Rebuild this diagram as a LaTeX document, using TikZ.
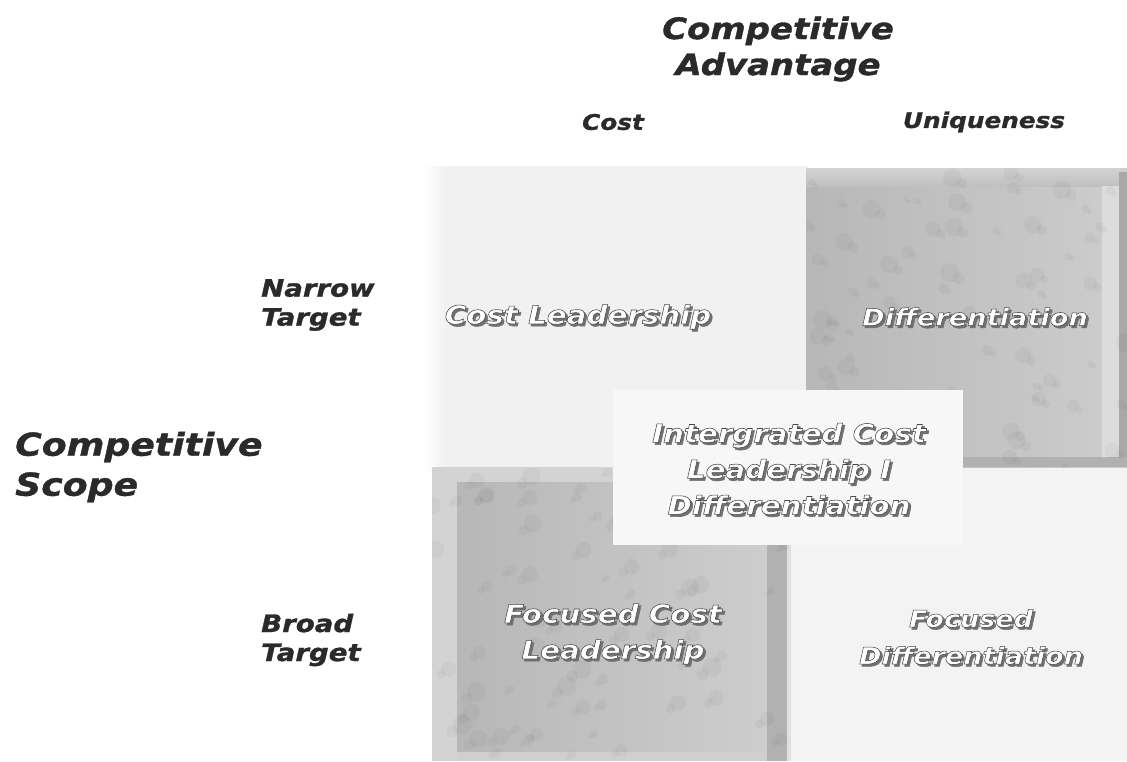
\documentclass[tikz,border=0pt]{standalone}
\usepackage{fontspec}
% heavy, slanted, widened sans for all lettering
\newfontfamily\wideface[FakeStretch=1.15, FakeBold=1.2]{DejaVu Sans Bold Oblique}
% same face with a stroked rim (stroke colour set separately)
\newfontfamily\rimface[FakeStretch=1.15, FakeBold=2.2]{DejaVu Sans Bold Oblique}

\definecolor{inkdark}{HTML}{2A2A2A}
\definecolor{fieldlight}{HTML}{F1F1F1}
\definecolor{fieldpale}{HTML}{F3F3F3}
\definecolor{panelframe}{HTML}{D3D3D3}
\definecolor{paneldark}{HTML}{B7B7B7}
\definecolor{panelmid}{HTML}{CDCDCD}
\definecolor{paneledge}{HTML}{A9A9A9}
\definecolor{lblshadow}{HTML}{707070}

% white lettering with a dark rim and a soft drop shadow
\newcommand\embossed[1]{%
  \rlap{\kern2.2pt\raisebox{-2.2pt}{\color{lblshadow}#1}}%
  {\color{white}\special{pdf:code 0.28 0.28 0.28 RG}#1}}

\tikzset{
  heading/.style={font=\wideface\fontsize{29.5}{36}\selectfont, text=inkdark,
    inner sep=0pt, align=center},
  axislbl/.style={font=\wideface\fontsize{21.5}{26}\selectfont, text=inkdark,
    inner sep=0pt, align=left},
  rowlbl/.style={font=\wideface\fontsize{24}{29}\selectfont, text=inkdark,
    inner sep=0pt, align=left},
  scopelbl/.style={font=\wideface\fontsize{31.5}{40}\selectfont, text=inkdark,
    inner sep=0pt, align=left},
  quadlbl/.style={font=\rimface\fontsize{25.5}{36}\selectfont,
    inner sep=0pt, align=center},
  blob/.style={black, opacity=0.03},
}

\begin{document}
\begin{tikzpicture}[x=1pt, y=-1pt]
\useasboundingbox (0,0) rectangle (1127,761);
\fill[white] (0,0) rectangle (1127,761);

% light fields behind the two plain quadrants
\fill[fieldlight] (432,166) rectangle (808,470);
\shade[left color=white, right color=fieldlight] (424,166) rectangle (446,470);
\fill[fieldpale] (788,467) rectangle (1127,761);

% textured panel: Differentiation
\shade[left color=paneldark, right color=panelmid] (806,168) rectangle (1127,467);
\shade[top color=panelframe, bottom color=paneldark!60!panelmid] (806,168) rectangle (1120,186);
\fill[panelmid!70!white] (1102,186) rectangle (1119,458);
\fill[paneledge] (1119,172) rectangle (1127,467);
\fill[paneledge!90!white] (812,457) rectangle (1127,467);
\pgfmathsetseed{7}
\begin{scope}
  \clip (806,168) rectangle (1127,467);
  \foreach \k in {1,...,70}{
    \pgfmathsetmacro\bx{806+320*rnd}
    \pgfmathsetmacro\by{168+300*rnd}
    \pgfmathsetmacro\br{3+7*rnd}
    \fill[blob] (\bx,\by) circle[radius=\br pt];
    \fill[blob] (\bx+\br,\by+0.6*\br) circle[radius=0.6*\br pt];
  }
\end{scope}

% textured panel: Focused Cost Leadership
\fill[panelframe] (432,467) rectangle (790,761);
\shade[left color=paneldark, right color=panelmid] (457,482) rectangle (767,752);
\fill[paneledge!90!white] (767,545) rectangle (787,761);
\fill[panelframe!70!white] (787,545) rectangle (791,761);
\fill[panelframe!85!paneldark] (457,752) rectangle (767,761);
\begin{scope}
  \clip (432,467) rectangle (790,761);
  \foreach \k in {1,...,70}{
    \pgfmathsetmacro\bx{432+360*rnd}
    \pgfmathsetmacro\by{467+295*rnd}
    \pgfmathsetmacro\br{3+7*rnd}
    \fill[blob] (\bx,\by) circle[radius=\br pt];
    \fill[blob] (\bx-\br,\by+0.7*\br) circle[radius=0.6*\br pt];
  }
\end{scope}

% central white panel
\fill[white!97!black] (613,390) rectangle (963,545);

% axis headings
\node[heading] (adv) at (778,49) {Competitive\\Advantage};
\node[axislbl, anchor=center] (cost) at (613,122) {Cost};
\node[axislbl, anchor=center] (uniq) at (984,122) {Uniqueness};
\node[rowlbl, anchor=west] (narrow) at (261,305) {Narrow\\Target};
\node[scopelbl, anchor=west] (scope) at (15,467) {Competitive\\Scope};
\node[rowlbl, anchor=west] (broad) at (261,640) {Broad\\Target};

% strategy labels
\node[quadlbl] (costlead) at (578,318) {\embossed{Cost Leadership}};
\node[quadlbl, font=\rimface\fontsize{23.7}{36}\selectfont] (diff) at (975,318) {\embossed{Differentiation}};
\node[quadlbl] (integ) at (789,470)
  {\embossed{Intergrated Cost}\\\embossed{Leadership I}\\\embossed{Differentiation}};
\node[quadlbl] (fcost) at (613,635) {\embossed{Focused Cost}\\\embossed{Leadership}};
\node[quadlbl, font=\rimface\fontsize{23.5}{37}\selectfont] (fdiff) at (971,638) {\embossed{Focused}\\\embossed{Differentiation}};
\end{tikzpicture}
\end{document}
